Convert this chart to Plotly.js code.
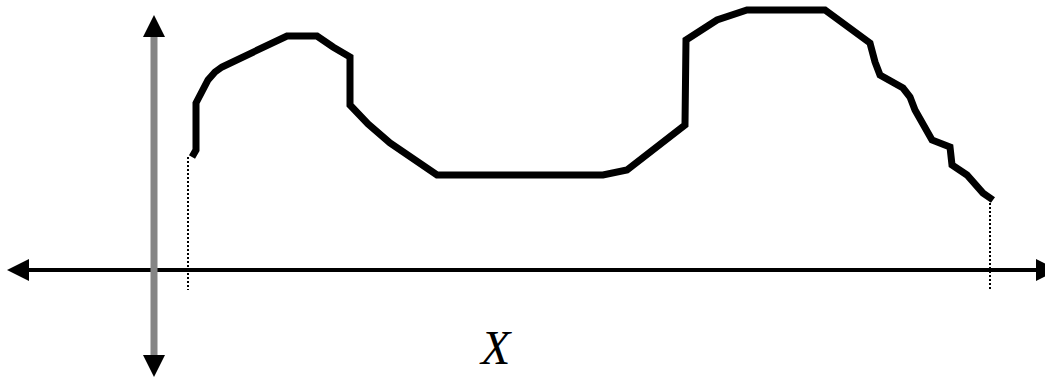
<!DOCTYPE html>
<html>
<head>
<meta charset="utf-8">
<script src="https://cdn.plot.ly/plotly-3.0.1.min.js"></script>
<style>html,body{margin:0;padding:0;background:#fff;}#chart{width:1045px;height:378px;}</style>
</head>
<body>
<div id="chart"></div>
<script>
// Curve (sketch) values, relative to the axes origin
var curveX = [39, 43, 43, 55, 62, 69, 134, 164, 180, 197, 197, 215, 237, 284, 450, 474, 532, 533, 564, 594, 672, 694, 717, 722, 727, 750, 757, 762, 779, 797, 799, 814, 830, 840];
var curveY = [112, 119, 166, 189, 197, 202, 233, 233, 222, 212, 164, 145, 126, 94, 94, 99, 144, 229, 249, 259, 259, 242, 226, 207, 194, 181, 172, 159, 129, 122, 104, 94, 76, 69];

// Guide (dotted) lines from curve ends down past the axis
var guideLeftX = [35, 35];
var guideLeftY = [112, -21];
var guideRightX = [837, 837];
var guideRightY = [66, -21];

// Axes extents
var xAxisExtent = [-146, 905];
var yAxisExtent = [-108, 254];
var axisLabel = "X";

var traces = [
  // horizontal axis line
  {x: [xAxisExtent[0] + 18, xAxisExtent[1] - 18], y: [-1, -1], mode: 'lines',
   line: {color: '#000', width: 4}},
  // horizontal axis arrowheads
  {x: [xAxisExtent[0]], y: [-1], mode: 'markers',
   marker: {symbol: 'arrow-left', size: 22, color: '#000', line: {width: 0}}},
  {x: [xAxisExtent[1]], y: [-1], mode: 'markers',
   marker: {symbol: 'arrow-right', size: 22, color: '#000', line: {width: 0}}},
  // vertical axis line (gray)
  {x: [1, 1], y: [yAxisExtent[0] + 18, yAxisExtent[1] - 18], mode: 'lines',
   line: {color: '#858585', width: 7}},
  {x: [1], y: [yAxisExtent[1]], mode: 'markers',
   marker: {symbol: 'arrow-up', size: 22, color: '#000', line: {width: 0}}},
  {x: [1], y: [yAxisExtent[0]], mode: 'markers',
   marker: {symbol: 'arrow-down', size: 22, color: '#000', line: {width: 0}}},
  // dotted guides
  {x: guideLeftX, y: guideLeftY, mode: 'lines', line: {color: '#000', width: 2, dash: '2px,2px'}},
  {x: guideRightX, y: guideRightY, mode: 'lines', line: {color: '#000', width: 2, dash: '2px,2px'}},
  // the curve
  {x: curveX, y: curveY, mode: 'lines', line: {color: '#000', width: 7, shape: 'linear'}}
];

var layout = {
  width: 1045, height: 378,
  margin: {l: 0, r: 0, t: 0, b: 0, pad: 0},
  paper_bgcolor: '#fff', plot_bgcolor: '#fff',
  showlegend: false, hovermode: false,
  xaxis: {range: [-153, 892], visible: false, fixedrange: true},
  yaxis: {range: [-109, 269], visible: false, fixedrange: true},
  annotations: [{
    x: 342, y: -78, xref: 'x', yref: 'y', text: '<i>' + axisLabel + '</i>',
    showarrow: false, xanchor: 'center', yanchor: 'middle',
    font: {family: 'Liberation Serif, Times New Roman, serif', size: 48, color: '#000'}
  }]
};

Plotly.newPlot('chart', traces, layout, {displayModeBar: false, staticPlot: true});
</script>
</body>
</html>
